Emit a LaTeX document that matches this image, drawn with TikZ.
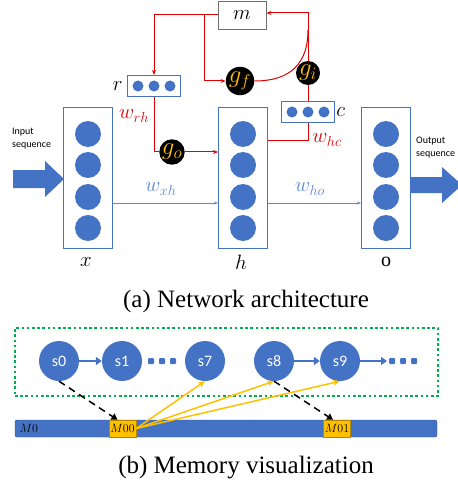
\documentclass[tikz,border=0pt]{standalone}
\usepackage{fontspec}
\setmainfont{Liberation Serif}
\setsansfont{Carlito}
\usepackage{tikz}
\usetikzlibrary{arrows.meta,calc}
\definecolor{netblue}{RGB}{68,114,196}
\definecolor{linkblue}{RGB}{90,135,215}
\definecolor{netred}{RGB}{225,0,0}
\definecolor{gategold}{RGB}{255,192,0}
\definecolor{dotgreen}{RGB}{0,176,80}
\definecolor{boxgrey}{RGB}{110,110,110}
\tikzset{
  >={Stealth[length=5pt,width=4pt]},
  layer/.style={draw=netblue, line width=1pt, fill=white,
    minimum width=49pt, minimum height=140pt, inner sep=0pt},
  unit/.style={circle, fill=netblue, minimum size=26pt, inner sep=0pt},
  vecbox/.style={draw=netblue, line width=1.2pt, fill=white,
    minimum width=53pt, minimum height=21pt, inner sep=0pt},
  vecdot/.style={circle, fill=netblue, minimum size=11pt, inner sep=0pt},
  membox/.style={draw=boxgrey, line width=0.8pt, fill=white,
    minimum width=48pt, minimum height=28pt, inner sep=0pt},
  gate/.style={circle, fill=black, minimum size=24pt, inner sep=0pt,
    text=gategold, font=\fontsize{23}{23}\selectfont},
  redline/.style={draw=netred, line width=1pt},
  redflow/.style={redline, ->},
  blueflow/.style={draw=linkblue, line width=0.8pt, -{Stealth[length=4pt,width=3pt]}},
  lbl/.style={font=\fontsize{20}{20}\selectfont, inner sep=1pt},
  seqtext/.style={font=\sffamily\fontsize{10}{13}\selectfont,
    align=left, anchor=north west, inner sep=0pt},
  caption/.style={font=\fontsize{25}{28}\selectfont},
  state/.style={circle, fill=netblue, minimum size=40pt, inner sep=0pt,
    text=white, font=\sffamily\fontsize{16}{16}\selectfont},
  chain/.style={draw=netblue, line width=2.5pt, -{Triangle[length=6pt,width=8pt]}},
  memdot/.style={rectangle, rounded corners=1pt, fill=netblue,
    minimum size=6pt, inner sep=0pt},
  cell/.style={draw=gategold!70!black, fill=gategold, minimum width=27pt,
    minimum height=17pt, inner sep=0pt, font=\fontsize{13}{13}\selectfont},
  readout/.style={draw=gategold, line width=1.5pt, -{Stealth[length=7pt,width=6pt]}},
  writein/.style={draw=black, line width=1.5pt, dash pattern=on 7pt off 5pt,
    -{Triangle[length=6pt,width=7pt]}}
}

\begin{document}
\begin{tikzpicture}[x=1pt,y=-1pt]
  \useasboundingbox (0,0) rectangle (457,489);

  % network architecture
  \foreach \n/\cx in {x/88,h/243,o/386}{
    \node[layer] (\n) at (\cx,178) {};
    \foreach \cy [count=\i] in {134,165,197,228}
      \node[unit] (\n\i) at (\cx,\cy) {};
  }
  \node[lbl] (xname) at (86,262) {$x$};
  \node[lbl] (hname) at (241,262) {$h$};
  \node[lbl] (oname) at (386,262) {o};

  \node[membox] (m) at (242,15) {\fontsize{20}{20}\selectfont $m$};
  \node[vecbox] (r) at (154,86) {};
  \node[vecbox] (c) at (308,112) {};
  \foreach \v in {r,c}
    \foreach \dx in {-16,0,16}
      \node[vecdot] at ($(\v)+(\dx,0)$) {};
  \node[lbl, anchor=east] (rname) at ($(r.west)+(-3,0)$) {$r$};
  \node[lbl, anchor=west] (cname) at (c.east) {$c$};

  \node[gate] (gf) at (240,81) {$g_f$};
  \node[gate] (gi) at (308,73) {$g_i$};
  \node[gate] (go) at (172,152) {$g_o$};

  \coordinate (mfork) at (204,15);
  \coordinate (gijoin) at (308,30);
  \coordinate (hc) at (0,141);
  \coordinate (xh) at (0,203);

  \draw[redflow] (m.west) -| (r.north);
  \draw[redflow] (mfork) |- (gf.west);
  \draw[redline] (gf.east) .. controls (292,81) and (308,62) .. (gijoin);
  \draw[redflow] (gi.north) |- ($(m.east)+(0,-2)$);
  \draw[redline] (c.north) -- (gi.south);
  \draw[redline] (r.south) |- (go.west);
  \draw[redflow] (go.east) -- (h.west |- go);
  \draw[redline] (h.east |- hc) -| (c.south);
  \node[lbl, text=netred] (wrh) at (134,116) {$w_{rh}$};
  \node[lbl, text=netred] (whc) at (327,140) {$w_{hc}$};

  \draw[blueflow] (x.east |- xh) -- (h.west |- xh);
  \draw[blueflow] (h.east |- xh) -- (o.west |- xh);
  \node[lbl, text=linkblue] (wxh) at (161,189) {$w_{xh}$};
  \node[lbl, text=linkblue] (who) at (310,189) {$w_{ho}$};

  \fill[netblue] (13,170) -- (45,170) -- (45,161) -- (64,179)
    -- (45,197) -- (45,188) -- (13,188) -- cycle;
  \fill[netblue] (410,177) -- (442,177) -- (442,167) -- (462,185)
    -- (442,203) -- (442,193) -- (410,193) -- cycle;
  \node[seqtext] (intext) at (12,128) {Input\\sequence};
  \node[seqtext] (outtext) at (416,137) {Output\\sequence};

  \node[caption] (capa) at (246,301) {(a) Network architecture};

  % memory visualization
  \node[draw=dotgreen, line width=2.6pt, dash pattern=on 2.6pt off 2.6pt,
    minimum width=423pt, minimum height=68pt, inner sep=0pt] (window) at (226.5,362) {};
  \foreach \s/\cx in {0/59,1/122,7/205,8/274,9/340}
    \node[state] (s\s) at (\cx,361) {s\s};
  \foreach \cx in {151,162,173,392,403,414}
    \node[memdot] at (\cx,361) {};
  \coordinate (tail) at (387,361);
  \draw[chain] (s0) -- (s1);
  \draw[chain] (s8) -- (s9);
  \draw[chain] (s9) -- (tail);

  \node[draw=netblue!70!black, fill=netblue, rounded corners=2pt, minimum width=422pt,
    minimum height=17pt, inner sep=0pt] (mem) at (226,428.5) {};
  \node[anchor=west, font=\fontsize{13}{13}\selectfont] (m0) at (16,428.5) {$M0$};
  \node[cell] (m00) at (122.5,428.5) {$M00$};
  \node[cell] (m01) at (337,428.5) {$M01$};

  \draw[writein] (s0.south) -- ($(m00.north)+(-5,0)$);
  \draw[writein] (s8.south) -- ($(m01.north)+(-4,0)$);
  \foreach \t in {s7,s8,s9}
    \draw[readout] (m00.east) -- (\t.south);

  \node[caption] (capb) at (246,468) {(b) Memory visualization};
\end{tikzpicture}
\end{document}
